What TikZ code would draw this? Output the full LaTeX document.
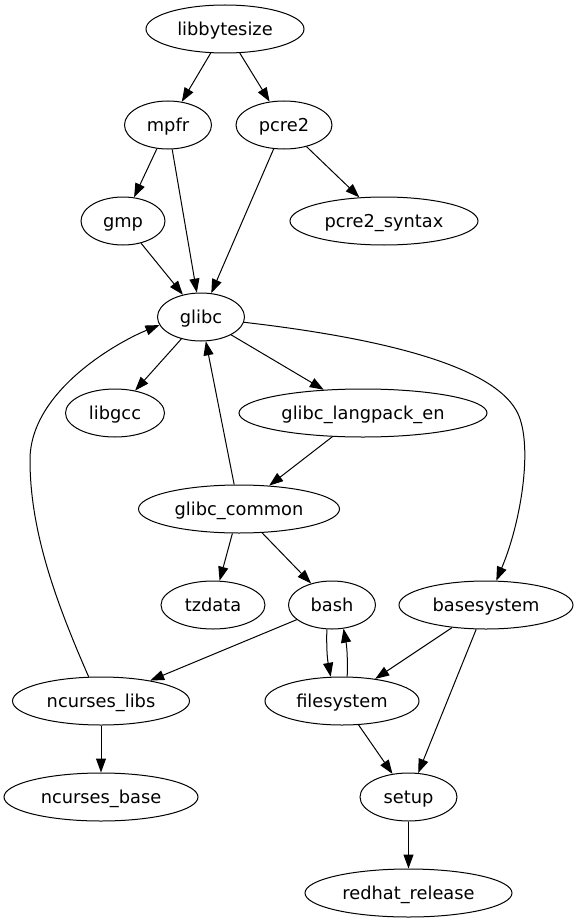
\documentclass[tikz,border=0pt]{standalone}
\usepackage{fontspec}
\setmainfont{DejaVu Sans}
\usetikzlibrary{arrows.meta,shapes.geometric}
\begin{document}
\begin{tikzpicture}[x=1pt,y=-1pt,
  pkg/.style={draw, ellipse, line width=1pt, minimum height=48pt, inner sep=0pt,
    font=\fontsize{17.8}{20}\selectfont, text height=13.6pt, text depth=0pt},
  dep/.style={-{Triangle[length=14pt,width=10pt]}, line width=1pt}]
\useasboundingbox (0,0) rectangle (578,923);
\node[pkg, minimum width=158pt] (libbytesize) at (225,29) {libbytesize};
\node[pkg, minimum width=87pt] (mpfr) at (168,125) {mpfr};
\node[pkg, minimum width=96pt] (pcre2) at (284,125) {pcre2};
\node[pkg, minimum width=84pt] (gmp) at (123,221) {gmp};
\node[pkg, minimum width=188pt] (pcre2syntax) at (384,221) {pcre2\_syntax};
\node[pkg, minimum width=87pt] (glibc) at (201,317) {glibc};
\node[pkg, minimum width=99pt] (libgcc) at (115,413) {libgcc};
\node[pkg, minimum width=248pt] (langpack) at (363,413) {glibc\_langpack\_en};
\node[pkg, minimum width=201pt] (common) at (239,509) {glibc\_common};
\node[pkg, minimum width=104pt] (tzdata) at (213,605) {tzdata};
\node[pkg, minimum width=87pt] (bash) at (332,605) {bash};
\node[pkg, minimum width=174pt] (basesystem) at (486,605) {basesystem};
\node[pkg, minimum width=177pt] (nlibs) at (101,701) {ncurses\_libs};
\node[pkg, minimum width=154pt] (filesystem) at (342,701) {filesystem};
\node[pkg, minimum width=194pt] (nbase) at (101,797) {ncurses\_base};
\node[pkg, minimum width=97pt] (setup) at (408.5,797) {setup};
\node[pkg, minimum width=207pt] (redhat) at (408.5,893) {redhat\_release};

\draw[dep] (libbytesize) -- (mpfr);
\draw[dep] (libbytesize) -- (pcre2);
\draw[dep] (mpfr) -- (gmp);
\draw[dep] (mpfr) -- (glibc);
\draw[dep] (pcre2) -- (glibc);
\draw[dep] (pcre2) -- (pcre2syntax);
\draw[dep] (gmp) -- (glibc);
\draw[dep] (glibc) -- (libgcc);
\draw[dep] (glibc) -- (langpack);
\draw[dep] (glibc.-7) .. controls (380,338) and (490,365) .. (516,410)
  .. controls (534,440) and (522,520) .. (basesystem.67);
\draw[dep] (langpack) -- (common);
\draw[dep] (common) -- (glibc);
\draw[dep] (common) -- (tzdata);
\draw[dep] (common) -- (bash);
\draw[dep] (bash) -- (nlibs);
\draw[dep] (bash.258) to[bend right=6] (filesystem.115);
\draw[dep] (filesystem.78) to[bend right=6] (bash.296);
\draw[dep] (nlibs.117) .. controls (55,600) and (30,530) .. (30,460)
  .. controls (30,390) and (120,341) .. (glibc.191);
\draw[dep] (nlibs) -- (nbase);
\draw[dep] (basesystem) -- (filesystem);
\draw[dep] (basesystem) -- (setup);
\draw[dep] (filesystem) -- (setup);
\draw[dep] (setup) -- (redhat);
\end{tikzpicture}
\end{document}
